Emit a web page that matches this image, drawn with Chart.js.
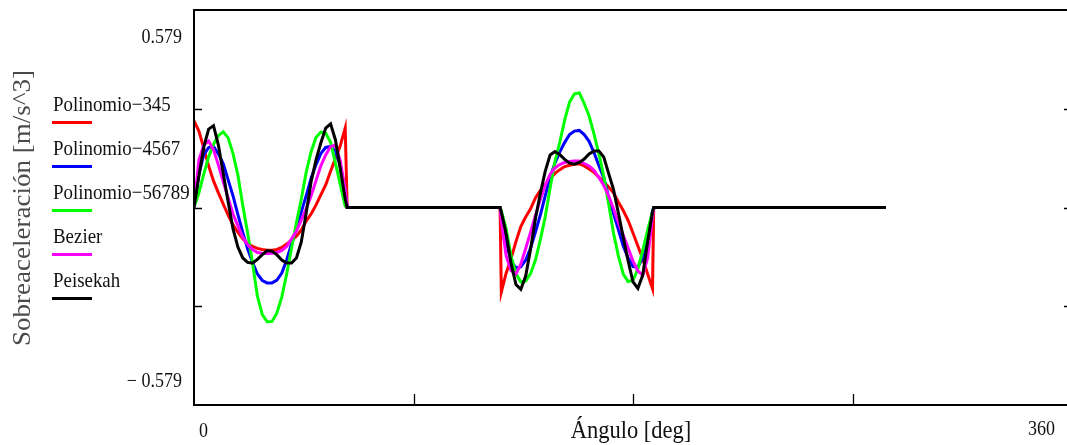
<!DOCTYPE html>
<html>
<head>
<meta charset="utf-8">
<script src="https://cdn.jsdelivr.net/npm/chart.js@4.4.1/dist/chart.umd.min.js"></script>
<style>
  html, body { margin: 0; padding: 0; background: #fff; overflow: hidden; }
  #wrap { width: 1067px; height: 445px; overflow: hidden; }
</style>
</head>
<body>
<div id="wrap"><canvas id="jerkChart" width="1080" height="445"></canvas></div>
<script>
// angles (deg) for the rise and the return, dwell ends at dwellEnd
var riseAngle = [0, 2, 4, 6, 8, 10, 12, 14, 16, 18, 20, 22, 24, 26, 28, 30, 32, 34, 36, 38, 40,
  42, 44, 46, 48, 50, 52, 54, 56, 58, 60, 62, 62.8];
var returnAngle = [125.5, 126, 128, 130, 132, 134, 136, 138, 140, 142, 144, 146, 148, 150, 152, 154,
  156, 158, 160, 162, 164, 166, 168, 170, 172, 174, 176, 178, 180, 182, 184, 186, 188, 188.5];
var dwellEnd = 283.7;

var seriesNames = ['Polinomio\u2212345', 'Polinomio\u22124567', 'Polinomio\u221256789', 'Bezier', 'Peisekah'];
var seriesColors = ['#ff0000', '#0000ff', '#00ff00', '#ff00ff', '#000000'];

// sobreaceleracion [m/s^3]
var poly345Rise = [0.254, 0.224, 0.174, 0.122, 0.078, 0.043, 0.010, -0.022, -0.051, -0.072, -0.092,
  -0.106, -0.114, -0.120, -0.123, -0.125, -0.125, -0.123, -0.117, -0.107, -0.097, -0.084, -0.066,
  -0.040, -0.019, 0.007, 0.037, 0.066, 0.106, 0.144, 0.182, 0.233, 0];
var poly345Return = [0, -0.248, -0.192, -0.150, -0.100, -0.056, -0.028, -0.004, 0.028, 0.050, 0.067,
  0.084, 0.100, 0.111, 0.120, 0.124, 0.127, 0.128, 0.122, 0.113, 0.103, 0.089, 0.075, 0.060, 0.043,
  0.016, -0.009, -0.038, -0.075, -0.113, -0.151, -0.195, -0.238, 0];

var poly4567Rise = [0, 0.098, 0.154, 0.176, 0.179, 0.157, 0.128, 0.081, 0.034, -0.021, -0.073,
  -0.122, -0.161, -0.195, -0.214, -0.221, -0.221, -0.213, -0.192, -0.154, -0.106, -0.060, -0.013,
  0.035, 0.085, 0.125, 0.158, 0.176, 0.179, 0.166, 0.122, 0.048, 0];
var poly4567Return = [0, -0.019, -0.101, -0.157, -0.177, -0.174, -0.154, -0.119, -0.072, -0.022,
  0.034, 0.088, 0.130, 0.163, 0.191, 0.214, 0.224, 0.226, 0.214, 0.194, 0.161, 0.123, 0.087, 0.031,
  -0.018, -0.065, -0.113, -0.148, -0.173, -0.174, -0.148, -0.089, -0.010, 0];

var poly56789Rise = [0, 0.043, 0.098, 0.148, 0.185, 0.211, 0.222, 0.204, 0.158, 0.095, 0.006,
  -0.075, -0.163, -0.260, -0.314, -0.335, -0.334, -0.309, -0.262, -0.195, -0.119, -0.045, 0.025,
  0.103, 0.163, 0.205, 0.221, 0.218, 0.191, 0.130, 0.066, 0.004, 0];
var poly56789Return = [0, -0.010, -0.063, -0.142, -0.194, -0.218, -0.216, -0.194, -0.154, -0.095,
  -0.028, 0.057, 0.135, 0.192, 0.257, 0.309, 0.333, 0.336, 0.305, 0.268, 0.216, 0.157, 0.092, 0.012,
  -0.075, -0.142, -0.195, -0.217, -0.214, -0.180, -0.126, -0.066, -0.013, 0];

var bezierRise = [0, 0.139, 0.183, 0.195, 0.169, 0.125, 0.075, 0.028, -0.019, -0.054, -0.087,
  -0.109, -0.123, -0.132, -0.134, -0.135, -0.134, -0.132, -0.126, -0.114, -0.092, -0.069, -0.037,
  -0.003, 0.034, 0.078, 0.122, 0.154, 0.179, 0.183, 0.136, 0.051, 0];
var bezierReturn = [0, -0.040, -0.142, -0.185, -0.195, -0.166, -0.120, -0.072, -0.023, 0.023, 0.065,
  0.097, 0.116, 0.126, 0.132, 0.135, 0.136, 0.136, 0.129, 0.122, 0.109, 0.088, 0.065, 0.034, -0.003,
  -0.044, -0.081, -0.119, -0.157, -0.186, -0.198, -0.148, -0.028, 0];

var peisekahRise = [0, 0.092, 0.177, 0.230, 0.240, 0.183, 0.100, 0.016, -0.063, -0.116, -0.148,
  -0.161, -0.163, -0.152, -0.138, -0.126, -0.128, -0.139, -0.154, -0.163, -0.163, -0.148, -0.101,
  -0.016, 0.075, 0.139, 0.189, 0.233, 0.245, 0.198, 0.113, 0.025, 0];
var peisekahReturn = [0, -0.013, -0.078, -0.163, -0.226, -0.240, -0.201, -0.122, -0.032, 0.041,
  0.106, 0.154, 0.164, 0.155, 0.141, 0.130, 0.127, 0.132, 0.142, 0.157, 0.166, 0.166, 0.148, 0.100,
  0.053, -0.016, -0.087, -0.157, -0.218, -0.237, -0.198, -0.101, -0.013, 0];

var yLimit = 0.579;
var yTicks = [-0.2895, 0, 0.2895];
var xTicks = [90, 180, 270];

function buildPoints(rise, ret) {
  var pts = [];
  rise.forEach(function(v, i) { pts.push({x: riseAngle[i], y: v}); });
  ret.forEach(function(v, i) { pts.push({x: returnAngle[i], y: v}); });
  pts.push({x: dwellEnd, y: 0});
  return pts;
}

var allSeries = [
  buildPoints(poly345Rise, poly345Return),
  buildPoints(poly4567Rise, poly4567Return),
  buildPoints(poly56789Rise, poly56789Return),
  buildPoints(bezierRise, bezierReturn),
  buildPoints(peisekahRise, peisekahReturn)
];

var datasets = allSeries.map(function(pts, i) {
  return {
    label: seriesNames[i],
    data: pts,
    borderColor: seriesColors[i],
    borderWidth: 3,
    pointRadius: 0,
    tension: 0,
    fill: false,
    order: 5 - i // black ends up on top
  };
});

var SQUEEZE = 0.9;
var SERIF = '"Liberation Serif", "Times New Roman", serif';

function squeezedText(ctx, text, x, y, align) {
  ctx.save();
  ctx.translate(x, y);
  ctx.scale(SQUEEZE, 1);
  ctx.textAlign = align;
  ctx.fillText(text, 0, 0);
  ctx.restore();
}

// frame, inward ticks, limit labels, axis titles and the stacked legend
var mathcadFrame = {
  id: 'mathcadFrame',
  afterDraw: function(chart) {
    var ctx = chart.ctx;
    var a = chart.chartArea;
    var xs = chart.scales.x, ys = chart.scales.y;

    ctx.save();
    ctx.strokeStyle = '#000';
    ctx.lineWidth = 2;
    ctx.beginPath();
    ctx.moveTo(a.right + 2, a.top);
    ctx.lineTo(a.left, a.top);
    ctx.lineTo(a.left, a.bottom);
    ctx.lineTo(a.right + 2, a.bottom);
    ctx.stroke();

    ctx.lineWidth = 1.3;
    ctx.beginPath();
    yTicks.forEach(function(t) {
      var py = Math.round(ys.getPixelForValue(t)) + 0.5;
      ctx.moveTo(a.left, py); ctx.lineTo(a.left + 8, py);
      ctx.moveTo(a.right, py); ctx.lineTo(a.right - 8, py);
    });
    xTicks.forEach(function(t) {
      var px = Math.round(xs.getPixelForValue(t)) + 0.5;
      ctx.moveTo(px, a.bottom); ctx.lineTo(px, a.bottom - 11);
    });
    ctx.stroke();

    ctx.fillStyle = '#111';
    ctx.textBaseline = 'middle';
    ctx.font = '20px ' + SERIF;
    squeezedText(ctx, yLimit.toFixed(3), 182, 38, 'right');
    squeezedText(ctx, '\u2212 ' + yLimit.toFixed(3), 182, 382, 'right');
    squeezedText(ctx, '0', 199, 432, 'left');
    squeezedText(ctx, '360', 1055, 430, 'right');

    ctx.font = '25px ' + SERIF;
    squeezedText(ctx, '\u00c1ngulo [deg]', 631, 431, 'center');

    // y title, rotated
    ctx.save();
    ctx.fillStyle = '#4a4a4a';
    ctx.translate(24, 208);
    ctx.rotate(-Math.PI / 2);
    ctx.scale(1, SQUEEZE);
    ctx.font = '27px ' + SERIF;
    ctx.textAlign = 'center';
    ctx.fillText('Sobreaceleraci\u00f3n [m/s^3]', 0, 0);
    ctx.restore();

    // legend: name above a short line sample
    ctx.font = '21px ' + SERIF;
    ctx.textBaseline = 'alphabetic';
    seriesNames.forEach(function(name, i) {
      var base = 111 + i * 44;
      ctx.fillStyle = '#111';
      squeezedText(ctx, name, 53, base, 'left');
      ctx.strokeStyle = seriesColors[i];
      ctx.lineWidth = 3;
      ctx.beginPath();
      ctx.moveTo(52, base + 11.5);
      ctx.lineTo(92, base + 11.5);
      ctx.stroke();
    });
    ctx.restore();
  }
};

var ctx = document.getElementById('jerkChart');
var jerkChart = new Chart(ctx, {
  type: 'line',
  data: { datasets: datasets },
  options: {
    responsive: false,
    animation: false,
    devicePixelRatio: 1,
    layout: { padding: { left: 194, top: 10, right: 8, bottom: 40 } },
    plugins: { legend: { display: false }, tooltip: { enabled: false } },
    scales: {
      x: {
        type: 'linear', min: 0, max: 360,
        ticks: { display: false },
        grid: { display: false, drawTicks: false },
        border: { display: false }
      },
      y: {
        min: -yLimit, max: yLimit,
        ticks: { display: false },
        grid: { display: false, drawTicks: false },
        border: { display: false }
      }
    }
  },
  plugins: [mathcadFrame]
});
</script>
</body>
</html>
